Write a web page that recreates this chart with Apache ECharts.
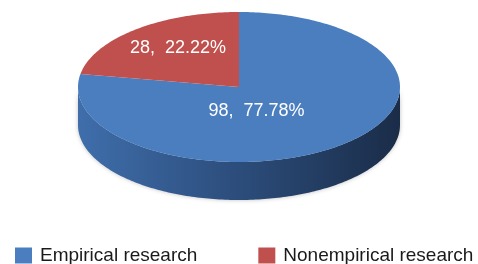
<!DOCTYPE html>
<html>
<head>
<meta charset="utf-8">
<script src="https://cdn.jsdelivr.net/npm/echarts@6/dist/echarts.min.js"></script>
<style>
  html, body { margin: 0; padding: 0; background: #fff; }
  #main { width: 478px; height: 264px; }
</style>
</head>
<body>
<div id="main"></div>
<script>
// data
var categories = ['Empirical research', 'Nonempirical research'];
var values = [98, 28];
var colors = ['#4a7ebf', '#c0504d'];

var total = values.reduce(function (a, b) { return a + b; }, 0);

// ellipse geometry of the 3D pie
var cx = 239, cy = 87, rx = 161, ry = 75, depth = 38;
// label placement as fraction of radius (x, y)
var labelFrac = [[0.17, 0.42], [0.59, 0.68]];

function pt(t, dy) {
    var a = t * Math.PI / 180;
    return [cx + rx * Math.sin(a), cy - ry * Math.cos(a) + (dy || 0)];
}

function arcPoints(t0, t1, dy) {
    var pts = [];
    var n = Math.max(2, Math.ceil(Math.abs(t1 - t0)));
    for (var k = 0; k <= n; k++) {
        pts.push(pt(t0 + (t1 - t0) * k / n, dy));
    }
    return pts;
}

function makeRender(idx) {
    return function (params, api) {
        var before = 0;
        for (var j = 0; j < idx; j++) before += values[j];
        var t0 = before / total * 360;
        var t1 = t0 + api.value(0) / total * 360;
        var color = api.visual('color');
        var children = [];

        // side wall, only the front half (90..270)
        var s0 = Math.max(t0, 90), s1 = Math.min(t1, 270);
        if (s1 > s0) {
            var top = arcPoints(s0, s1, 0);
            var bot = arcPoints(s1, s0, depth);
            children.push({
                type: 'polygon',
                z2: 1,
                shape: { points: top.concat(bot) },
                style: {
                    fill: idx === 0 ? new echarts.graphic.LinearGradient(0, 0, 1, 0, [
                        { offset: 0, color: '#3f6eab' },
                        { offset: 0.45, color: '#2e5080' },
                        { offset: 1, color: '#1a2c48' }
                    ]) : '#8e3432',
                    shadowBlur: 4,
                    shadowColor: 'rgba(0,0,0,0.25)'
                }
            });
        }

        // top face
        var face = [[cx, cy]].concat(arcPoints(t0, t1, 0));
        children.push({
            type: 'polygon',
            z2: 10,
            shape: { points: face },
            style: { fill: color }
        });

        // label
        var mid = (t0 + t1) / 2 * Math.PI / 180;
        var f = labelFrac[idx];
        var pct = (api.value(0) / total * 100).toFixed(2);
        children.push({
            type: 'text',
            z2: 20,
            x: cx + rx * Math.sin(mid) * f[0],
            y: cy - ry * Math.cos(mid) * f[1],
            style: {
                text: api.value(0) + ',  ' + pct + '%',
                fill: '#fff',
                font: '18px "Liberation Sans", Arial, sans-serif',
                align: 'center',
                verticalAlign: 'middle'
            }
        });

        return { type: 'group', children: children };
    };
}

var chart = echarts.init(document.getElementById('main'), null, { renderer: 'canvas' });

var series = categories.map(function (name, i) {
    return {
        type: 'custom',
        name: name,
        coordinateSystem: 'none',
        itemStyle: { color: colors[i] },
        renderItem: makeRender(i),
        data: [values[i]],
        animation: false
    };
});

var option = {
    backgroundColor: '#fff',
    animation: false,
    legend: {
        data: categories,
        left: 15,
        top: 246,
        width: 470,
        padding: 0,
        icon: 'rect',
        itemWidth: 17,
        itemHeight: 16,
        itemGap: 61,
        textStyle: {
            fontFamily: '"Liberation Sans", Arial, sans-serif',
            fontSize: 19,
            color: '#1a1a1a',
            padding: [0, 0, 0, 3]
        }
    },
    series: series
};

chart.setOption(option);
</script>
</body>
</html>
